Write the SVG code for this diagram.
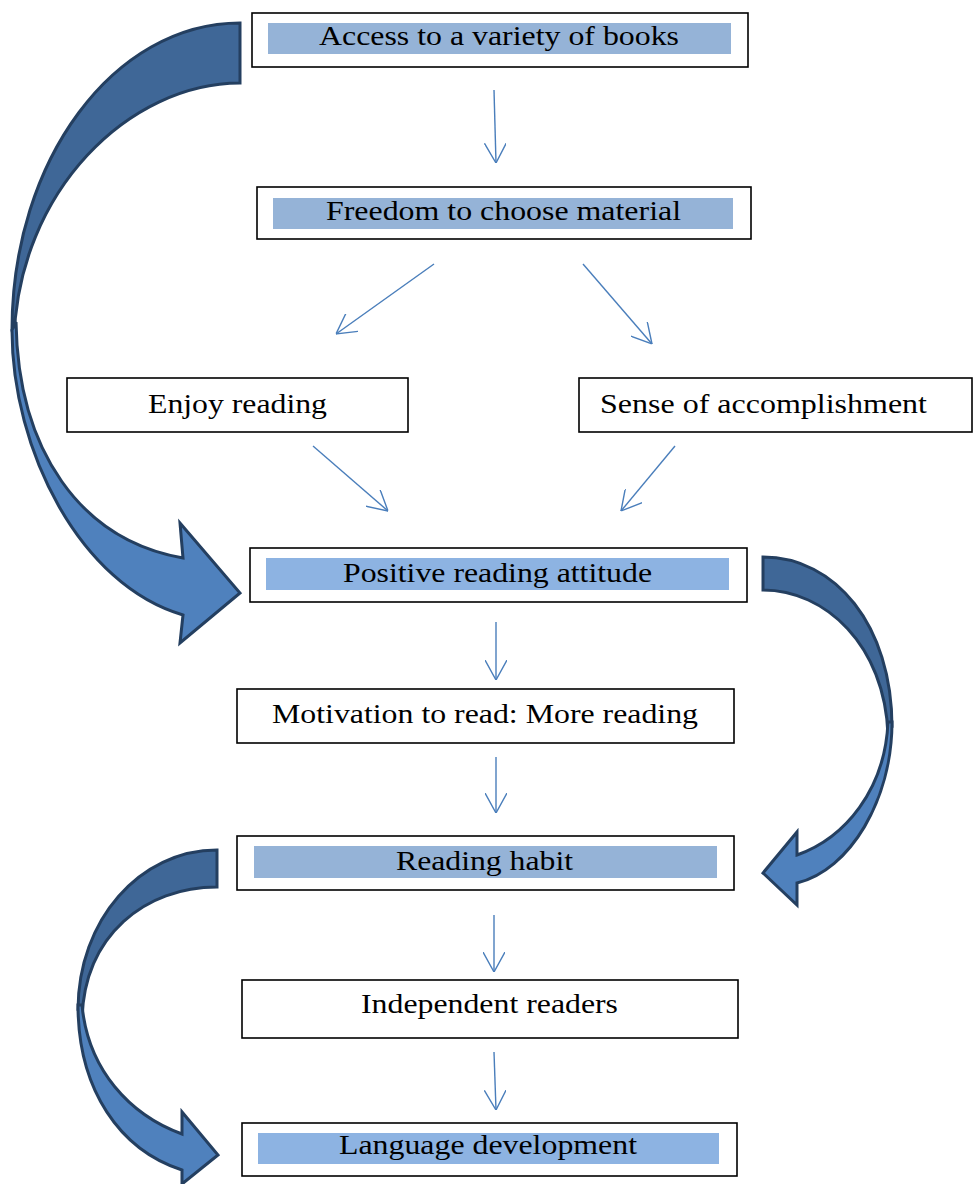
<svg xmlns="http://www.w3.org/2000/svg" width="973" height="1184" viewBox="0 0 973 1184">
  <defs>
    <marker id="open" viewBox="0 0 20 22" markerUnits="userSpaceOnUse" markerWidth="20" markerHeight="22" refX="20" refY="11" orient="auto">
      <path d="M0,0 L20,11 L0,22" fill="none" stroke="#4A7EBB" stroke-width="1.4"/>
    </marker>
  </defs>
  <style>
    .box { fill: #ffffff; stroke: #000000; stroke-width: 1.6; }
    .band { fill: #95B3D7; }
    .band2 { fill: #8DB3E2; }
    .lbl { font-family: "Liberation Serif", "Times New Roman", serif; font-size: 27px; fill: #000000; }
    .conn { stroke: #4A7EBB; stroke-width: 1.4; fill: none; marker-end: url(#open); }
    .dark { fill: #3F6797; stroke: #243F60; stroke-width: 3; stroke-linejoin: miter; }
    .light { fill: #4F81BD; stroke: #243F60; stroke-width: 3; stroke-linejoin: miter; }
  </style>
  <rect width="973" height="1184" fill="#ffffff"/>

  <g id="connectors">
    <line class="conn" x1="494" y1="90" x2="496" y2="163"/>
    <line class="conn" x1="434" y1="264" x2="336" y2="334"/>
    <line class="conn" x1="583" y1="264" x2="652" y2="344"/>
    <line class="conn" x1="313" y1="446" x2="388" y2="511"/>
    <line class="conn" x1="675" y1="446" x2="621" y2="511"/>
    <line class="conn" x1="496" y1="622" x2="496" y2="680"/>
    <line class="conn" x1="496" y1="757" x2="496" y2="813"/>
    <line class="conn" x1="494" y1="915" x2="494" y2="972"/>
    <line class="conn" x1="494" y1="1052" x2="496" y2="1110"/>

    <g id="curved-arrow-1">
      <path class="dark" d="M240,23 C114,23 12,160 12,330 L14,340 C18,190 130,83 240,83 Z"/>
      <path class="light" d="M12,330 C12,450 80,585 183,615 L180,643 L240,593 L180,523 L183,558 C80,540 18,450 16,322 Z"/>
    </g>
    <g id="curved-arrow-2">
      <path class="dark" d="M763,557 C835,557 892,625 892,727 L888,735 C885,645 825,590 763,590 Z"/>
      <path class="light" d="M892,722 C892,800 850,870 797,883 L797,905 L763,873 L797,832 L797,855 C845,838 885,790 888,722 Z"/>
    </g>
    <g id="curved-arrow-3">
      <path class="dark" d="M217,850 C140,850 78,920 78,1010 L82,1018 C85,935 145,887 217,887 Z"/>
      <path class="light" d="M78,1005 C78,1090 120,1150 182,1170 L182,1184 L218,1155 L182,1112 L182,1134 C130,1115 88,1070 82,1005 Z"/>
    </g>
  </g>

  <g id="node-access">
    <rect class="box" x="252" y="13" width="496" height="54"/>
    <rect class="band" x="268" y="23" width="463" height="31"/>
    <text class="lbl" x="499" y="45" text-anchor="middle" textLength="360" lengthAdjust="spacingAndGlyphs">Access to a variety of books</text>
  </g>
  <g id="node-freedom">
    <rect class="box" x="257" y="187" width="494" height="52"/>
    <rect class="band" x="273" y="198" width="460" height="31"/>
    <text class="lbl" x="503.5" y="220" text-anchor="middle" textLength="355" lengthAdjust="spacingAndGlyphs">Freedom to choose material</text>
  </g>
  <g id="node-enjoy">
    <rect class="box" x="67" y="378" width="341" height="54"/>
    <text class="lbl" x="237.5" y="413" text-anchor="middle" textLength="179" lengthAdjust="spacingAndGlyphs">Enjoy reading</text>
  </g>
  <g id="node-sense">
    <rect class="box" x="579" y="378" width="393" height="54"/>
    <text class="lbl" x="763.5" y="413" text-anchor="middle" textLength="327" lengthAdjust="spacingAndGlyphs">Sense of accomplishment</text>
  </g>
  <g id="node-positive">
    <rect class="box" x="250" y="548" width="497" height="54"/>
    <rect class="band2" x="266" y="558" width="463" height="32"/>
    <text class="lbl" x="497.5" y="582" text-anchor="middle" textLength="309" lengthAdjust="spacingAndGlyphs">Positive reading attitude</text>
  </g>
  <g id="node-motivation">
    <rect class="box" x="237" y="689" width="497" height="54"/>
    <text class="lbl" x="485" y="723" text-anchor="middle" textLength="426" lengthAdjust="spacingAndGlyphs">Motivation to read: More reading</text>
  </g>
  <g id="node-habit">
    <rect class="box" x="237" y="836" width="497" height="54"/>
    <rect class="band" x="254" y="846" width="463" height="32"/>
    <text class="lbl" x="484.5" y="870" text-anchor="middle" textLength="177" lengthAdjust="spacingAndGlyphs">Reading habit</text>
  </g>
  <g id="node-independent">
    <rect class="box" x="242" y="980" width="496" height="58"/>
    <text class="lbl" x="489.5" y="1013" text-anchor="middle" textLength="257" lengthAdjust="spacingAndGlyphs">Independent readers</text>
  </g>
  <g id="node-language">
    <rect class="box" x="242" y="1123" width="495" height="53"/>
    <rect class="band2" x="258" y="1133" width="461" height="31"/>
    <text class="lbl" x="488" y="1154" text-anchor="middle" textLength="298" lengthAdjust="spacingAndGlyphs">Language development</text>
  </g>
</svg>
